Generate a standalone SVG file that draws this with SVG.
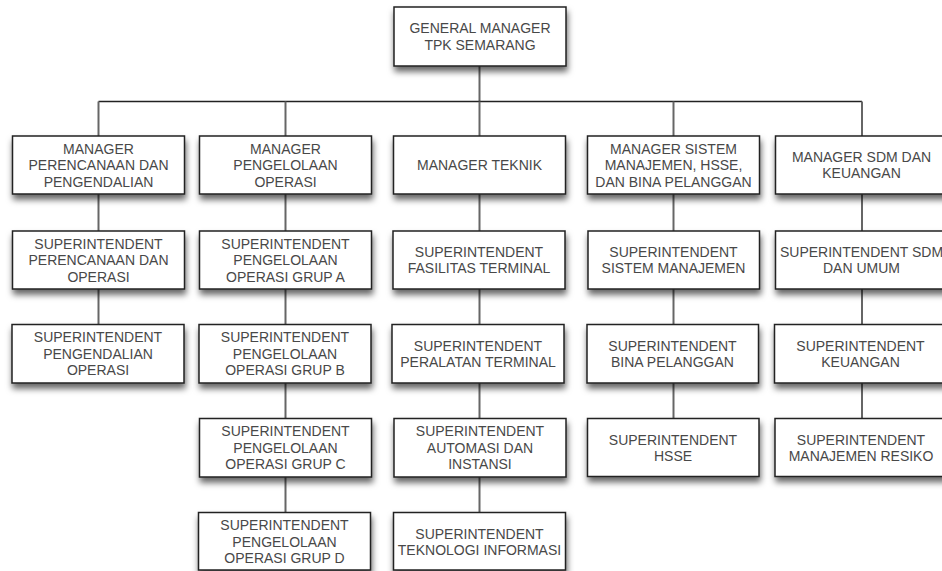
<svg xmlns="http://www.w3.org/2000/svg" width="942" height="571" viewBox="0 0 942 571">
<defs>
<filter id="sh" x="-10%" y="-20%" width="125%" height="170%">
<feDropShadow dx="1" dy="5" stdDeviation="3" flood-color="#000" flood-opacity="0.6"/>
</filter>
<style>
.box{fill:#fff;stroke:#222;stroke-width:1.5;filter:url(#sh)}
.t{font-family:"Liberation Sans",Arial,sans-serif;font-size:14px;fill:#484848;text-anchor:middle}
.bus{stroke:#222;stroke-width:1.5;fill:none}
.v{stroke:#666;stroke-width:2;fill:none}
</style>
</defs>
<rect width="942" height="571" fill="#fff"/>
<g id="connectors">
<line class="v" x1="479.5" y1="66" x2="479.5" y2="101.5"/>
<line class="bus" x1="98.5" y1="101.5" x2="862" y2="101.5"/>
<line class="v" x1="98.5" y1="101.5" x2="98.5" y2="136"/>
<line class="v" x1="285.5" y1="101.5" x2="285.5" y2="136"/>
<line class="v" x1="479.5" y1="101.5" x2="479.5" y2="136"/>
<line class="v" x1="673.5" y1="101.5" x2="673.5" y2="136"/>
<line class="v" x1="862" y1="101.5" x2="862" y2="136"/>
<line class="v" x1="98.5" y1="194" x2="98.5" y2="324.5"/>
<line class="v" x1="285.5" y1="194" x2="285.5" y2="512.5"/>
<line class="v" x1="479.5" y1="194" x2="479.5" y2="512.5"/>
<line class="v" x1="673.5" y1="194" x2="673.5" y2="418.5"/>
<line class="v" x1="862" y1="194" x2="862" y2="418.5"/>
</g>
<g id="gm">
<rect class="box" x="394" y="7" width="172" height="59"/>
<text class="t" x="480" y="33.3">GENERAL MANAGER</text>
<text class="t" x="480" y="50">TPK SEMARANG</text>
</g>
<g id="m1">
<rect class="box" x="12.5" y="136" width="172" height="58"/>
<text class="t" x="98.5" y="153.5">MANAGER</text>
<text class="t" x="98.5" y="170">PERENCANAAN DAN</text>
<text class="t" x="98.5" y="186.5">PENGENDALIAN</text>
</g>
<g id="m2">
<rect class="box" x="199.5" y="136" width="172" height="58"/>
<text class="t" x="285.5" y="153.5">MANAGER</text>
<text class="t" x="285.5" y="170">PENGELOLAAN</text>
<text class="t" x="285.5" y="186.5">OPERASI</text>
</g>
<g id="m3">
<rect class="box" x="393.5" y="136" width="172" height="58"/>
<text class="t" x="479.5" y="170">MANAGER TEKNIK</text>
</g>
<g id="m4">
<rect class="box" x="587.5" y="136" width="172" height="58"/>
<text class="t" x="673.5" y="153.5">MANAGER SISTEM</text>
<text class="t" x="673.5" y="170">MANAJEMEN, HSSE,</text>
<text class="t" x="673.5" y="186.5">DAN BINA PELANGGAN</text>
</g>
<g id="m5">
<rect class="box" x="775.5" y="136" width="172" height="58"/>
<text class="t" x="861.5" y="161.75">MANAGER SDM DAN</text>
<text class="t" x="861.5" y="178.25">KEUANGAN</text>
</g>
<g id="s11">
<rect class="box" x="12.5" y="231" width="172" height="58"/>
<text class="t" x="98.5" y="248.5">SUPERINTENDENT</text>
<text class="t" x="98.5" y="265">PERENCANAAN DAN</text>
<text class="t" x="98.5" y="281.5">OPERASI</text>
</g>
<g id="s12">
<rect class="box" x="12" y="324.5" width="172" height="58.5"/>
<text class="t" x="98" y="342">SUPERINTENDENT</text>
<text class="t" x="98" y="358.5">PENGENDALIAN</text>
<text class="t" x="98" y="375">OPERASI</text>
</g>
<g id="s21">
<rect class="box" x="199.5" y="231" width="172" height="58"/>
<text class="t" x="285.5" y="248.5">SUPERINTENDENT</text>
<text class="t" x="285.5" y="265">PENGELOLAAN</text>
<text class="t" x="285.5" y="281.5">OPERASI GRUP A</text>
</g>
<g id="s22">
<rect class="box" x="199" y="324.5" width="172" height="58.5"/>
<text class="t" x="285" y="342">SUPERINTENDENT</text>
<text class="t" x="285" y="358.5">PENGELOLAAN</text>
<text class="t" x="285" y="375">OPERASI GRUP B</text>
</g>
<g id="s23">
<rect class="box" x="199.5" y="418.5" width="172" height="58.5"/>
<text class="t" x="285.5" y="436">SUPERINTENDENT</text>
<text class="t" x="285.5" y="452.5">PENGELOLAAN</text>
<text class="t" x="285.5" y="469">OPERASI GRUP C</text>
</g>
<g id="s24">
<rect class="box" x="198.5" y="512.5" width="172" height="57.5"/>
<text class="t" x="284.5" y="530">SUPERINTENDENT</text>
<text class="t" x="284.5" y="546.5">PENGELOLAAN</text>
<text class="t" x="284.5" y="563">OPERASI GRUP D</text>
</g>
<g id="s31">
<rect class="box" x="393" y="231" width="172" height="58"/>
<text class="t" x="479" y="256.75">SUPERINTENDENT</text>
<text class="t" x="479" y="273.25">FASILITAS TERMINAL</text>
</g>
<g id="s32">
<rect class="box" x="392" y="324.5" width="172" height="58.5"/>
<text class="t" x="478" y="350.5">SUPERINTENDENT</text>
<text class="t" x="478" y="367">PERALATAN TERMINAL</text>
</g>
<g id="s33">
<rect class="box" x="394" y="418.5" width="172" height="58.5"/>
<text class="t" x="480" y="436">SUPERINTENDENT</text>
<text class="t" x="480" y="452.5">AUTOMASI DAN</text>
<text class="t" x="480" y="469">INSTANSI</text>
</g>
<g id="s34">
<rect class="box" x="393.5" y="512.5" width="172" height="57.5"/>
<text class="t" x="479.5" y="538.5">SUPERINTENDENT</text>
<text class="t" x="479.5" y="555">TEKNOLOGI INFORMASI</text>
</g>
<g id="s41">
<rect class="box" x="588" y="231" width="171.5" height="58"/>
<text class="t" x="673.5" y="256.75">SUPERINTENDENT</text>
<text class="t" x="673.5" y="273.25">SISTEM MANAJEMEN</text>
</g>
<g id="s42">
<rect class="box" x="587" y="324.5" width="171.5" height="58.5"/>
<text class="t" x="672.5" y="350.5">SUPERINTENDENT</text>
<text class="t" x="672.5" y="367">BINA PELANGGAN</text>
</g>
<g id="s43">
<rect class="box" x="587.5" y="418.5" width="171.5" height="58"/>
<text class="t" x="673" y="444.5">SUPERINTENDENT</text>
<text class="t" x="673" y="461">HSSE</text>
</g>
<g id="s51">
<rect class="box" x="775.5" y="231" width="172" height="58"/>
<text class="t" x="861.5" y="256.75">SUPERINTENDENT SDM</text>
<text class="t" x="861.5" y="273.25">DAN UMUM</text>
</g>
<g id="s52">
<rect class="box" x="774.5" y="324.5" width="172" height="58.5"/>
<text class="t" x="860.5" y="350.5">SUPERINTENDENT</text>
<text class="t" x="860.5" y="367">KEUANGAN</text>
</g>
<g id="s53">
<rect class="box" x="775" y="418.5" width="172" height="58"/>
<text class="t" x="861" y="444.5">SUPERINTENDENT</text>
<text class="t" x="861" y="461">MANAJEMEN RESIKO</text>
</g>
</svg>
